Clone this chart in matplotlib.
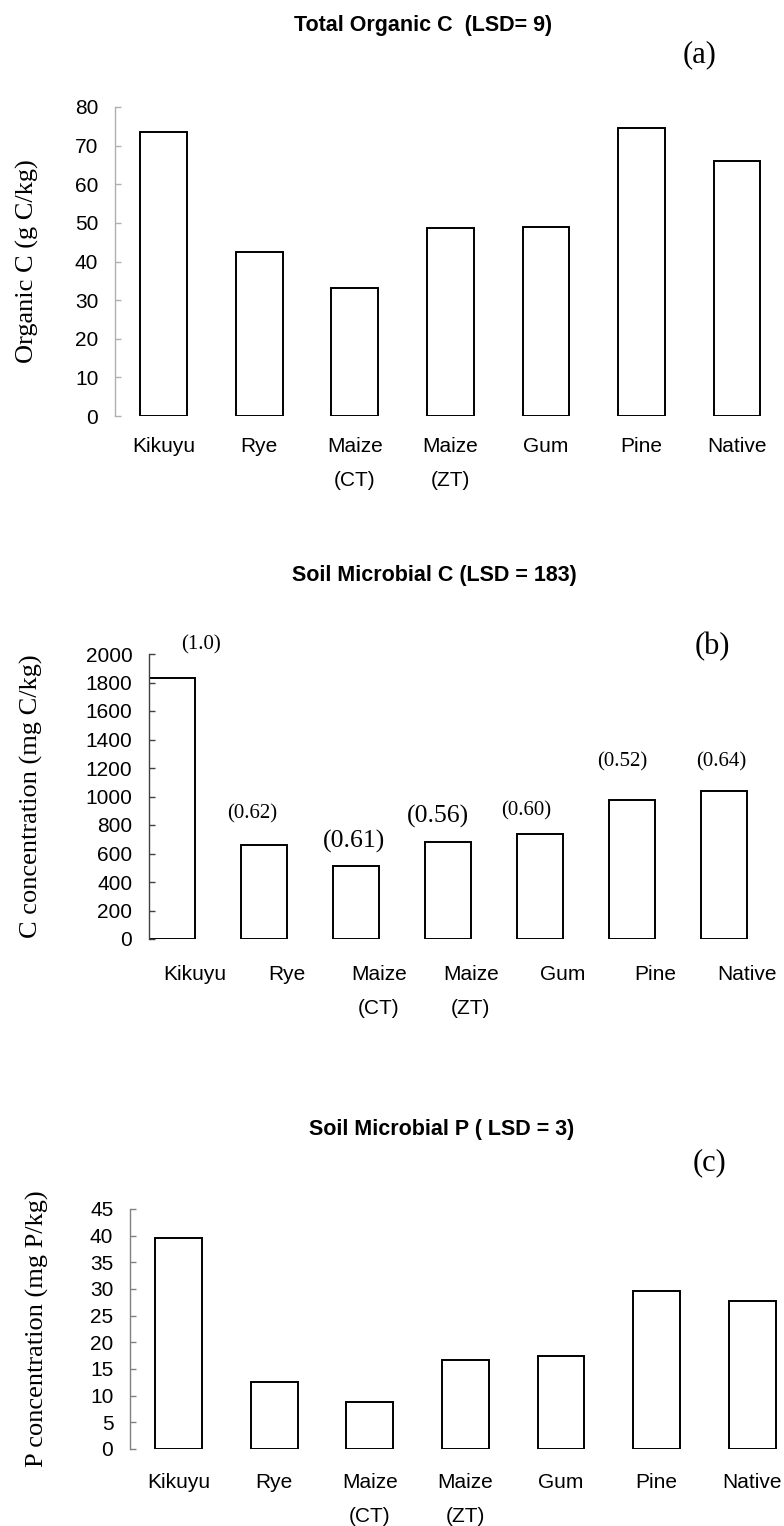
import matplotlib
matplotlib.use("Agg")
import matplotlib.pyplot as plt

# ---------------- data ----------------
categories = ["Kikuyu", "Rye", "Maize\n(CT)", "Maize\n(ZT)", "Gum", "Pine", "Native"]

organic_c = [73.5, 42.5, 33.2, 48.6, 49.0, 74.6, 66.0]
microbial_c = [1830, 660, 510, 680, 740, 978, 1040]
microbial_p = [39.6, 12.5, 8.9, 16.6, 17.5, 29.7, 27.8]

ratio_labels = ["(1.0)", "(0.62)", "(0.61)", "(0.56)", "(0.60)", "(0.52)", "(0.64)"]

titles = ["Total Organic C  (LSD= 9)",
          "Soil Microbial C (LSD = 183)",
          "Soil Microbial P ( LSD = 3)"]
panel_tags = ["(a)", "(b)", "(c)"]
ylabels = ["Organic C (g C/kg)",
           "C concentration (mg C/kg)",
           "P concentration (mg P/kg)"]
yticks_a = [0, 10, 20, 30, 40, 50, 60, 70, 80]
yticks_b = [0, 200, 400, 600, 800, 1000, 1200, 1400, 1600, 1800, 2000]
yticks_c = [0, 5, 10, 15, 20, 25, 30, 35, 40, 45]

# ---------------- style ----------------
SANS = ["Liberation Sans", "DejaVu Sans"]
SERIF = ["Liberation Serif", "DejaVu Serif"]
W, H = 784, 1526

fig = plt.figure(figsize=(W / 100, H / 100), dpi=100)
fig.patch.set_facecolor("white")


def px_axes(left, bottom_px, top_px, width_px):
    return fig.add_axes([left / W, 1 - bottom_px / H, width_px / W, (bottom_px - top_px) / H])


def style_axes(ax, yticks, ylim, xlim, spine_color, xpad, xtick_shift=0.0):
    x = list(range(len(categories)))
    ax.set_xlim(*xlim)
    ax.set_ylim(*ylim)
    ax.set_yticks(yticks)
    ax.set_yticklabels([str(t) for t in yticks], family=SANS, fontsize=15)
    ax.set_xticks([i + xtick_shift for i in x])
    ax.set_xticklabels(categories, family=SANS, fontsize=15, linespacing=2.0)
    for s in ["top", "right", "bottom"]:
        ax.spines[s].set_visible(False)
    ax.spines["left"].set_color(spine_color)
    ax.spines["left"].set_linewidth(1.0)
    ax.tick_params(axis="y", direction="in", length=4, width=1, color=spine_color, pad=12)
    ax.tick_params(axis="x", length=0, pad=xpad)
    ax.set_facecolor("none")


# ---------------- panel (a) ----------------
ax1 = px_axes(115, 416, 107, 665)
x = list(range(len(categories)))
ax1.bar(x, organic_c, width=0.49, color="white", edgecolor="black", linewidth=1.4)
style_axes(ax1, yticks_a, (0, 80), (-0.51, 6.45), "#b0b0b0", 15)

# ---------------- panel (b) ----------------
ax2 = px_axes(149, 939, 654, 630)
ax2.bar(x, microbial_c, width=0.5, color="white", edgecolor="black", linewidth=1.4)
style_axes(ax2, yticks_b, (0, 2000), (-0.25, 6.6), "#404040", 19, xtick_shift=0.25)

ratio_dx = [0.32, -0.13, -0.02, -0.11, -0.15, -0.10, -0.03]
ratio_y = [2063, 877, 688, 863, 898, 1242, 1242]
ratio_fs = [15, 15, 18.5, 18.5, 15, 15, 15]
for i, lab in enumerate(ratio_labels):
    ax2.text(i + ratio_dx[i], ratio_y[i], lab, family=SERIF, fontsize=ratio_fs[i],
             ha="center", va="center", clip_on=False)

# ---------------- panel (c) ----------------
ax3 = px_axes(130, 1449, 1209, 651)
ax3.bar(x, microbial_p, width=0.49, color="white", edgecolor="black", linewidth=1.4)
style_axes(ax3, yticks_c, (0, 45), (-0.507, 6.3), "#808080", 17)

# ---------------- titles, tags, y labels ----------------
title_pos = [(423, 25), (434, 576), (442, 1129)]
tag_pos = [(700, 55), (712, 647), (710, 1163)]
ylab_pos = [(27, 261), (31, 796), (37, 1329)]
for t, (tx, ty) in zip(titles, title_pos):
    fig.text(tx / W, 1 - ty / H, t, family=SANS, fontsize=15.5, fontweight="bold",
             ha="center", va="center")
for t, (tx, ty) in zip(panel_tags, tag_pos):
    fig.text(tx / W, 1 - ty / H, t, family=SERIF, fontsize=22, ha="center", va="center")
for t, (tx, ty) in zip(ylabels, ylab_pos):
    fig.text(tx / W, 1 - ty / H, t, family=SERIF, fontsize=19, rotation=90,
             ha="center", va="center")

fig.savefig("out.png", dpi=100, facecolor="white")
